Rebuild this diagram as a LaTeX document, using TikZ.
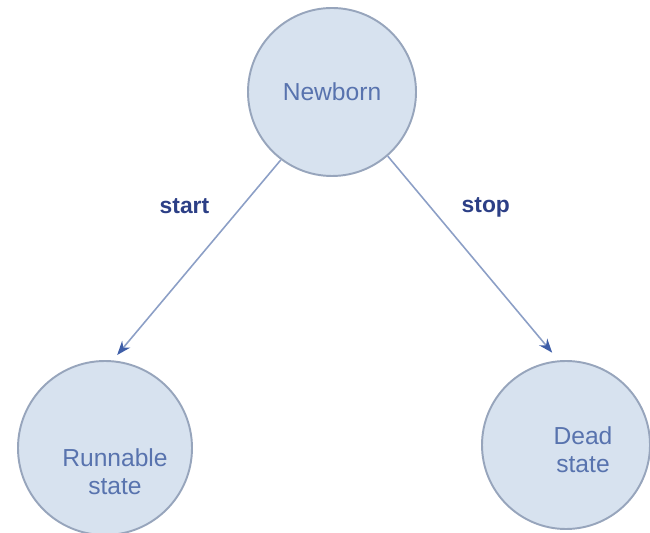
\documentclass[tikz,border=0pt]{standalone}
\usepackage{fontspec}
\setmainfont{Liberation Sans}
\usepackage{tikz}
\usetikzlibrary{arrows.meta}
\definecolor{my_fill}{HTML}{D7E2EF}
\definecolor{my_rim}{HTML}{97A5BC}
\definecolor{my_line}{HTML}{8C9FC6}
\definecolor{my_text}{HTML}{5873AE}
\definecolor{my_label}{HTML}{2C3F86}
\definecolor{my_tip}{HTML}{3E5EA8}

\begin{document}
\begin{tikzpicture}[
    state/.style={circle, draw=my_rim, line width=1.1pt, fill=my_fill,
                  inner sep=0pt, font=\fontsize{14}{16}\selectfont,
                  text=my_text, align=center},
    trans/.style={my_line, line width=0.9pt,
                  -{Stealth[length=8pt, width=6pt, color=my_tip, fill=my_tip]}},
    translabel/.style={font=\bfseries\fontsize{13}{15}\selectfont, text=my_label,
                       text height=1.6ex, text depth=0.5ex}
]

% ---------------------------------------------------------------
%  Three states of a thread: one at the top, two below it.
%  Picture frame 13cm x 10.66cm (650 x 533 px, 1px = 0.02cm)
% ---------------------------------------------------------------
\useasboundingbox (0,0) rectangle (13,10.66);

% ---- States ----
\node[state, minimum size=3.36cm] (newborn)  at ( 6.64, 8.82) {Newborn};
\node[state, minimum size=3.48cm,
      label={[state, draw=none, fill=none, xshift=0.2cm, yshift=-0.48cm]center:Runnable\\state}]
      (runnable) at ( 2.10, 1.70) {};
\node[state, minimum size=3.36cm,
      label={[state, draw=none, fill=none, xshift=0.34cm, yshift=-0.1cm]center:Dead\\state}]
      (dead)     at (11.32, 1.76) {};

% ---- Transitions ----
\draw[trans, shorten >=0.14cm] (newborn.233) -- (runnable.85)
    node[translabel, pos=0.24, left=14pt] (startlbl) {start};
\draw[trans, shorten >=0.2cm]  (newborn.311) -- (dead.95)
    node[translabel, pos=0.25, right=14pt] (stoplbl) {stop};

\end{tikzpicture}
\end{document}
